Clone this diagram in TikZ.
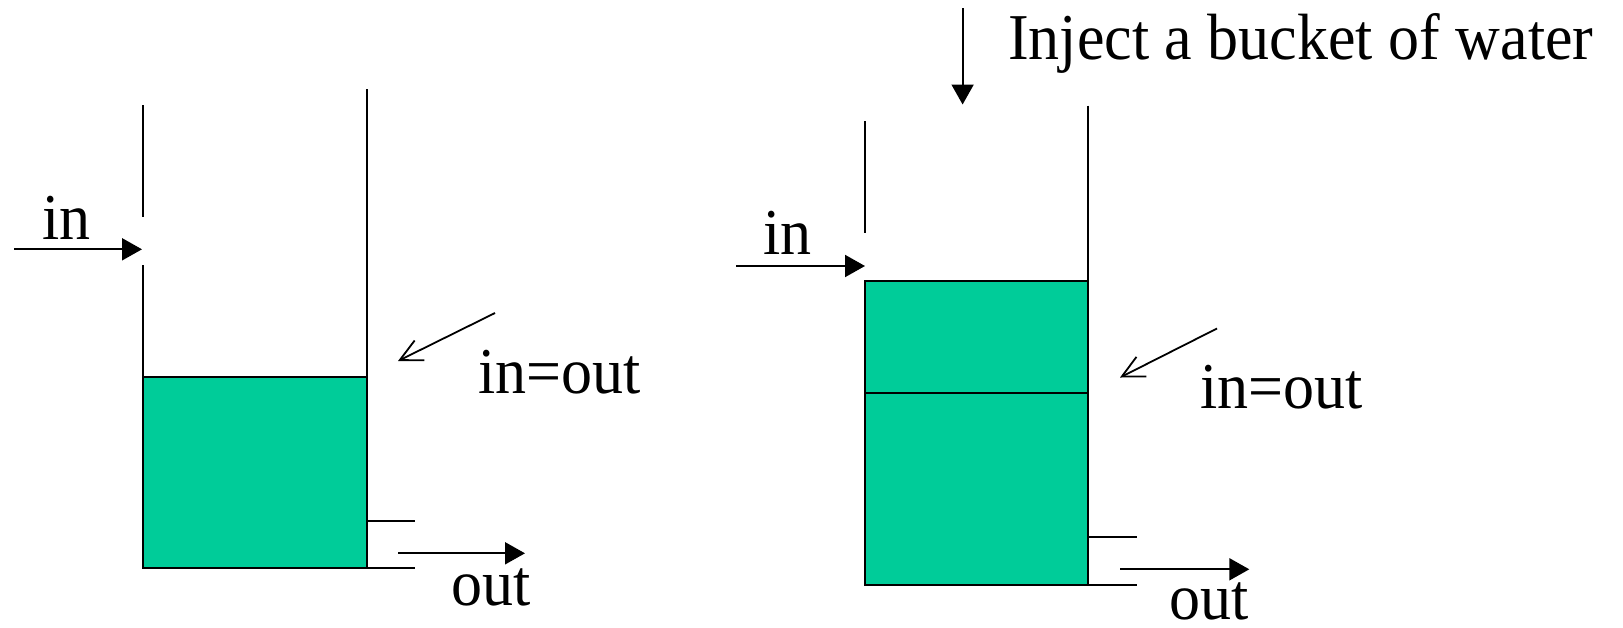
\documentclass[tikz,border=0pt]{standalone}
\usepackage{fontspec}
\setmainfont{Liberation Serif}
\usetikzlibrary{arrows.meta}
\definecolor{water}{RGB}{0,204,153}
\newcommand\talltext[1]{\scalebox{1}[1.055]{#1}}
\tikzset{
  wall/.style={line width=2pt, line cap=butt},
  waterbox/.style={fill=water, draw=black, line width=2pt},
  flowarrow/.style={line width=2pt, -{Triangle[length=20pt,width=22pt]}},
  notearrow/.style={line width=1.8pt, -{Straight Barb[length=22pt,width=22pt,line width=1.8pt]}},
  lbl/.style={anchor=base west, inner sep=0pt, font=\fontsize{62}{62}\selectfont}
}
\begin{document}
\begin{tikzpicture}[x=1pt,y=-1pt]
\useasboundingbox (0,0) rectangle (1623,627);
% ---------- left tank ----------
\draw[waterbox] (142.7,377) rectangle (366.5,568);
\draw[wall] (142.7,105) -- (142.7,217);
\draw[wall] (142.7,265) -- (142.7,568);
\draw[wall] (366.5,89) -- (366.5,521);
\draw[wall] (366.5,521) -- (415,521);
\draw[wall] (142.7,568) -- (415,568);
\coordinate (Lin0) at (14,249.3);
\coordinate (Lin1) at (142,249.3);
\draw[flowarrow] (Lin0) -- (Lin1);
\node[lbl] (Lintext) at (42,239) {\talltext{in}};
\coordinate (Leq0) at (495,313);
\coordinate (Leq1) at (398,361);
\draw[notearrow] (Leq0) -- (Leq1);
\node[lbl] (Leqtext) at (478,393) {\talltext{in=out}};
\coordinate (Lout0) at (398,553.3);
\coordinate (Lout1) at (525,553.3);
\draw[flowarrow] (Lout0) -- (Lout1);
\node[lbl] (Louttext) at (451,605) {\talltext{out}};
% ---------- right tank ----------
\draw[waterbox] (865.3,280.5) rectangle (1088,585);
\draw[wall] (865.3,393) -- (1088,393);
\draw[wall] (865.3,121) -- (865.3,233);
\draw[wall] (1088,105.6) -- (1088,537);
\draw[wall] (1088,537) -- (1137,537);
\draw[wall] (865.3,585) -- (1137,585);
\coordinate (Rin0) at (736,266);
\coordinate (Rin1) at (865,266);
\draw[flowarrow] (Rin0) -- (Rin1);
\node[lbl] (Rintext) at (763,254.6) {\talltext{in}};
\coordinate (Inj0) at (962.6,8.3);
\coordinate (Inj1) at (962.6,104.5);
\draw[flowarrow] (Inj0) -- (Inj1);
\node[lbl] (Injtext) at (1008,59) {\talltext{Inject a bucket of water}};
\coordinate (Req0) at (1217,328.5);
\coordinate (Req1) at (1120,377.5);
\draw[notearrow] (Req0) -- (Req1);
\node[lbl] (Reqtext) at (1200,408.5) {\talltext{in=out}};
\coordinate (Rout0) at (1120,569.3);
\coordinate (Rout1) at (1249.3,569.3);
\draw[flowarrow] (Rout0) -- (Rout1);
\node[lbl] (Routtext) at (1169,619) {\talltext{out}};
\end{tikzpicture}
\end{document}
